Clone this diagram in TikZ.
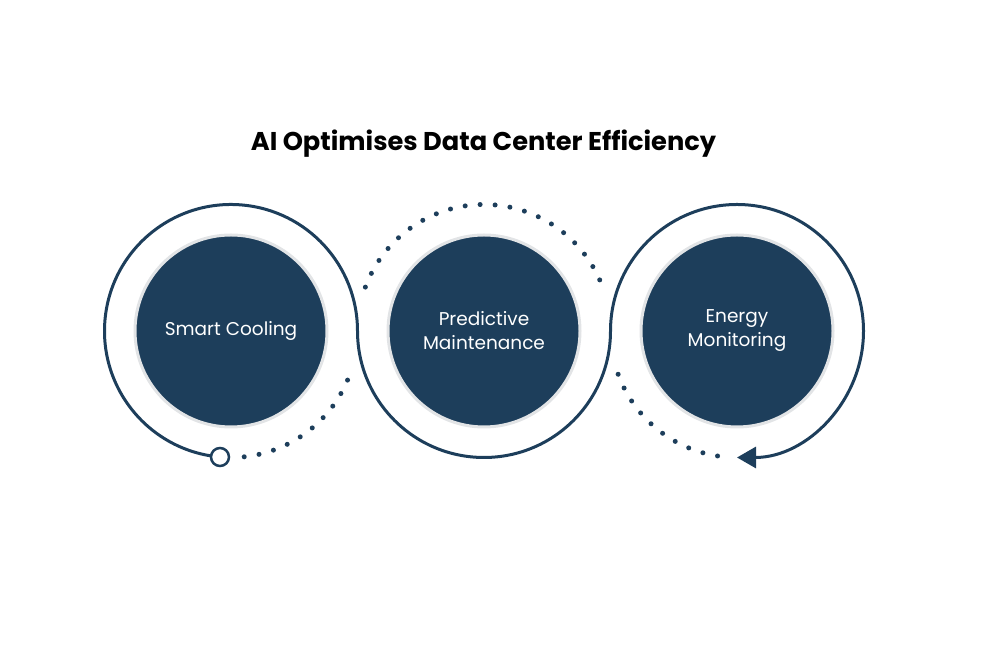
\documentclass[tikz,border=0pt]{standalone}
\usepackage{fontspec}
\setmainfont{Poppins}
\usetikzlibrary{arrows.meta,calc}
\definecolor{navy}{HTML}{1D3E5B}
\definecolor{halo}{HTML}{E2E4E6}
\tikzset{
  ring/.style={draw=navy, line width=3pt},
  dotarc/.style={draw=navy, line width=5pt, line cap=round, dash pattern=on 0pt off 15pt},
  disc/.style={circle, fill=navy, draw=halo, line width=3pt, minimum size=192pt, inner sep=0pt,
    text=white, align=center, font=\fontsize{18.5pt}{24pt}\selectfont},
  titletext/.style={font=\fontsize{25.7pt}{28pt}\selectfont\bfseries, text=black}
}
\begin{document}
\begin{tikzpicture}[x=1pt,y=1pt]
\useasboundingbox (0,0) rectangle (998,652);
\coordinate (C1) at (231,321);
\coordinate (C2) at (484,321);
\coordinate (C3) at (737,321);
\node[titletext] (title) at (483.5,508) {AI Optimises Data Center Efficiency};
% main ring path
\coordinate (start) at ($(C1)+(-95:126.5)$);
\draw[ring, -{Triangle[length=19pt,width=21pt]}] (start)
  arc[start angle=-95, end angle=-360, radius=126.5]
  arc[start angle=180, end angle=360, radius=126.5]
  arc[start angle=180, end angle=-90, radius=126.5];
\node[circle, fill=white, draw=navy, line width=2.5pt, minimum size=18pt, inner sep=0pt] (startdot) at (start) {};
% dotted arcs
\draw[dotarc] ($(C1)+(-84:126.5)$) arc[start angle=-84, end angle=-20.4, radius=126.5];
\draw[dotarc] ($(C2)+(159.7:126.5)$) arc[start angle=159.7, end angle=20.3, radius=126.5];
\draw[dotarc] ($(C3)+(200:126.5)$) arc[start angle=200, end angle=263, radius=126.5];
% discs
\node[disc] (cool) at (C1) {Smart Cooling};
\node[disc] (pred) at (C2) {Predictive\\Maintenance};
\node[disc] (energy) at (C3) {Energy\\Monitoring};
\end{tikzpicture}
\end{document}
